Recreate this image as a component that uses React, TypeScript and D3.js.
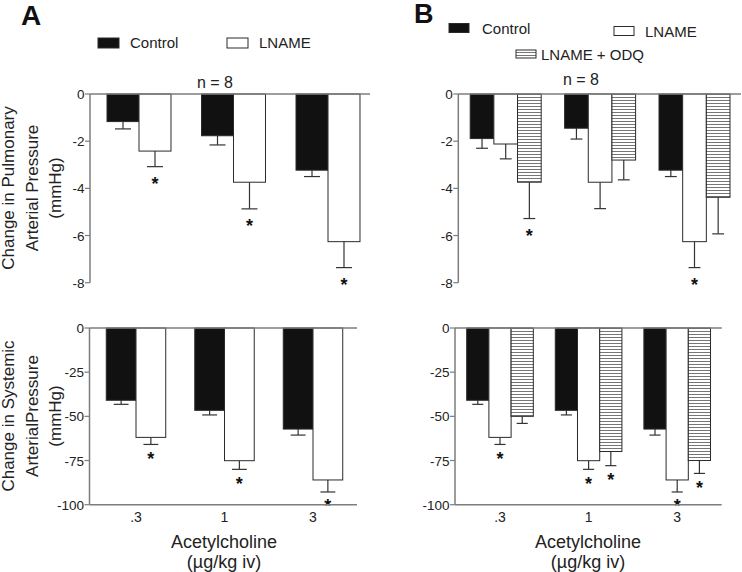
import React from "react";
import * as d3 from "d3";

const FONT = "'Liberation Sans', Arial, Helvetica, sans-serif";

// ---------- data ----------
const categories = [".3", "1", "3"];
const seriesNames = ["Control", "LNAME", "LNAME + ODQ"];

// Panel A – pulmonary arterial pressure (mmHg)
const pulmControlA = [-1.17, -1.77, -3.23];
const pulmControlAErr = [0.31, 0.39, 0.27];
const pulmLnameA = [-2.42, -3.74, -6.26];
const pulmLnameAErr = [0.66, 1.13, 1.1];
const pulmSigA = [[false, true], [false, true], [false, true]];

// Panel B – pulmonary arterial pressure (mmHg)
const pulmControlB = [-1.89, -1.45, -3.23];
const pulmControlBErr = [0.41, 0.46, 0.27];
const pulmLnameB = [-2.12, -3.74, -6.26];
const pulmLnameBErr = [0.63, 1.12, 1.1];
const pulmOdqB = [-3.74, -2.8, -4.38];
const pulmOdqBErr = [1.54, 0.84, 1.55];
const pulmSigB = [[false, false, true], [false, false, false], [false, true, false]];

// Panel A – systemic arterial pressure (mmHg)
const sysControlA = [-40.9, -46.6, -57.2];
const sysControlAErr = [2.3, 2.6, 3.4];
const sysLnameA = [-61.9, -75.1, -86.0];
const sysLnameAErr = [4.0, 4.9, 6.8];
const sysSigA = [[false, true], [false, true], [false, true]];

// Panel B – systemic arterial pressure (mmHg)
const sysControlB = [-40.9, -46.6, -57.2];
const sysControlBErr = [2.3, 2.6, 3.4];
const sysLnameB = [-61.9, -75.1, -86.0];
const sysLnameBErr = [4.0, 4.9, 6.8];
const sysOdqB = [-50.0, -69.9, -75.0];
const sysOdqBErr = [4.0, 8.0, 7.3];
const sysSigB = [[false, true, false], [false, true, true], [false, true, true]];

const pulmTicks = [0, -2, -4, -6, -8];
const sysTicks = [0, -25, -50, -75, -100];

// ---------- styles ----------
const AXIS = "#7d7d7d";
const OUTLINE = "#2a2a2a";
const fills = ["#111111", "#ffffff", "url(#hatch)"];

type Panel = {
  key: string;
  values: number[][]; // [series][category]
  errs: number[][];
  sig: boolean[][]; // [category][series]
  domain: [number, number];
  ticks: number[];
  bx0: number; bx1: number; pad: number;
  axisX: number; axisRight: number;
  yTop: number; yBot: number;
  bottomAxis: boolean;
  starOffset: number;
};

const panels: Panel[] = [
  {
    key: "pa", values: [pulmControlA, pulmLnameA], errs: [pulmControlAErr, pulmLnameAErr], sig: pulmSigA,
    domain: [-8, 0], ticks: pulmTicks, bx0: 91.75, bx1: 375.25, pad: 0.323,
    axisX: 90, axisRight: 370, yTop: 94, yBot: 282.7, bottomAxis: false, starOffset: 12.5,
  },
  {
    key: "pb", values: [pulmControlB, pulmLnameB, pulmOdqB], errs: [pulmControlBErr, pulmLnameBErr, pulmOdqBErr], sig: pulmSigB,
    domain: [-8, 0], ticks: pulmTicks, bx0: 458.5, bx1: 741.7, pad: 0.248,
    axisX: 458.3, axisRight: 741, yTop: 94, yBot: 282.7, bottomAxis: false, starOffset: 12.5,
  },
  {
    key: "sa", values: [sysControlA, sysLnameA], errs: [sysControlAErr, sysLnameAErr], sig: sysSigA,
    domain: [-100, 0], ticks: sysTicks, bx0: 91.75, bx1: 357.25, pad: 0.328,
    axisX: 89.5, axisRight: 357, yTop: 328, yBot: 504.7, bottomAxis: true, starOffset: 10,
  },
  {
    key: "sb", values: [sysControlB, sysLnameB, sysOdqB], errs: [sysControlBErr, sysLnameBErr, sysOdqBErr], sig: sysSigB,
    domain: [-100, 0], ticks: sysTicks, bx0: 455.7, bx1: 721.5, pad: 0.248,
    axisX: 455, axisRight: 721.7, yTop: 328, yBot: 504.7, bottomAxis: true, starOffset: 10,
  },
];

function PanelView({ p }: { p: Panel }) {
  const y = d3.scaleLinear().domain(p.domain).range([p.yBot, p.yTop]);
  const x = d3.scaleBand<string>().domain(categories).range([p.bx0, p.bx1]).paddingInner(p.pad).paddingOuter(p.pad / 2);
  const nS = p.values.length;
  const xs = d3.scaleBand<number>().domain(d3.range(nS)).range([0, x.bandwidth()]);
  const bw = xs.bandwidth();
  const y0 = y(0);
  return (
    <g>
      {categories.map((c, ci) => (
        <g key={c}>
          {p.values.map((vals, si) => {
            const v = vals[ci];
            const e = p.errs[si][ci];
            const bx = (x(c) as number) + (xs(si) as number);
            const cx = bx + bw / 2;
            const yv = y(v);
            const ye = y(v - e);
            return (
              <g key={si}>
                <line x1={cx} x2={cx} y1={yv} y2={ye} stroke="#333" strokeWidth={1.2} />
                <line x1={cx - bw / 4} x2={cx + bw / 4} y1={ye} y2={ye} stroke="#333" strokeWidth={1.2} />
                <rect x={bx} y={y0} width={bw} height={yv - y0} fill={fills[si]} stroke={OUTLINE} strokeWidth={1} />
                {p.sig[ci][si] && (
                  <text x={cx} y={ye + p.starOffset + 10.5} textAnchor="middle" fontSize={18} fontWeight="bold" fontFamily={FONT} fill="#111">*</text>
                )}
              </g>
            );
          })}
        </g>
      ))}
      {/* axes */}
      <line x1={p.axisX} x2={p.axisX} y1={p.yTop} y2={p.yBot} stroke={AXIS} strokeWidth={1.5} />
      <line x1={p.axisX} x2={p.axisRight} y1={y0} y2={y0} stroke={AXIS} strokeWidth={1.5} />
      {p.bottomAxis && (
        <line x1={p.axisX} x2={p.axisRight} y1={p.yBot} y2={p.yBot} stroke={AXIS} strokeWidth={1.5} />
      )}
      {p.ticks.map((t) => (
        <g key={t}>
          <line x1={p.axisX - 5} x2={p.axisX} y1={y(t)} y2={y(t)} stroke={AXIS} strokeWidth={1.2} />
          <text x={p.axisX - 5.5} y={y(t) + 5} textAnchor="end" fontSize={13.5} fontFamily={FONT} fill="#222">{t}</text>
        </g>
      ))}
      {p.bottomAxis && categories.map((c) => (
        <text key={c} x={(x(c) as number) + x.bandwidth() / 2} y={p.yBot + 17.5} textAnchor="middle" fontSize={14} fontFamily={FONT} fill="#222">{c}</text>
      ))}
    </g>
  );
}

function YTitle({ lines, cy }: { lines: string[]; cy: number }) {
  const bases = [14, 37.5, 60.5];
  return (
    <g>
      {lines.map((l, i) => (
        <text key={i} transform={`translate(${bases[i]},${cy}) rotate(-90)`} textAnchor="middle" fontSize={17} fontFamily={FONT} fill="#222">{l}</text>
      ))}
    </g>
  );
}

function LegendItem({ x, y, w, h, si, tx, ty }: { x: number; y: number; w: number; h: number; si: number; tx: number; ty: number }) {
  return (
    <g>
      <rect x={x} y={y} width={w} height={h} fill={fills[si]} stroke={OUTLINE} strokeWidth={1} />
      <text x={tx} y={ty} fontSize={15} fontFamily={FONT} fill="#222">{seriesNames[si]}</text>
    </g>
  );
}

export default function App() {
  return (
    <svg width={742} height={572} style={{ position: "absolute", left: 0, top: 0, background: "#fff" }}>
      <defs>
        <pattern id="hatch" width={6} height={3} patternUnits="userSpaceOnUse">
          <rect width={6} height={3} fill="#fff" />
          <line x1={0} x2={6} y1={1.5} y2={1.5} stroke="#666" strokeWidth={0.9} />
        </pattern>
      </defs>
      <rect width={742} height={572} fill="#fff" />
      <text x={21} y={25} fontSize={28} fontWeight="bold" fontFamily={FONT} fill="#111">A</text>
      <text x={414} y={23} fontSize={27} fontWeight="bold" fontFamily={FONT} fill="#111">B</text>

      <LegendItem x={98} y={38} w={21} h={10} si={0} tx={130} ty={48} />
      <LegendItem x={227} y={38} w={21} h={10} si={1} tx={259} ty={48} />
      <LegendItem x={449} y={23.5} w={20} h={9} si={0} tx={482} ty={33.5} />
      <LegendItem x={614} y={26.5} w={20} h={9} si={1} tx={645} ty={36.5} />
      <LegendItem x={516} y={50} w={20} h={8} si={2} tx={541} ty={59.5} />

      <text x={215} y={88} textAnchor="middle" fontSize={16} fontFamily={FONT} fill="#222">n = 8</text>
      <text x={581} y={85} textAnchor="middle" fontSize={16} fontFamily={FONT} fill="#222">n = 8</text>

      <YTitle lines={["Change in Pulmonary", "Arterial Pressure", "(mmHg)"]} cy={188} />
      <YTitle lines={["Change in Systemic", "ArterialPressure", "(mmHg)"]} cy={416} />

      {panels.map((p) => <PanelView key={p.key} p={p} />)}

      <text x={224} y={548} textAnchor="middle" fontSize={18} fontFamily={FONT} fill="#222">Acetylcholine</text>
      <text x={224} y={568} textAnchor="middle" fontSize={18} fontFamily={FONT} fill="#222">(µg/kg iv)</text>
      <text x={588} y={548} textAnchor="middle" fontSize={18} fontFamily={FONT} fill="#222">Acetylcholine</text>
      <text x={588} y={568} textAnchor="middle" fontSize={18} fontFamily={FONT} fill="#222">(µg/kg iv)</text>
    </svg>
  );
}
